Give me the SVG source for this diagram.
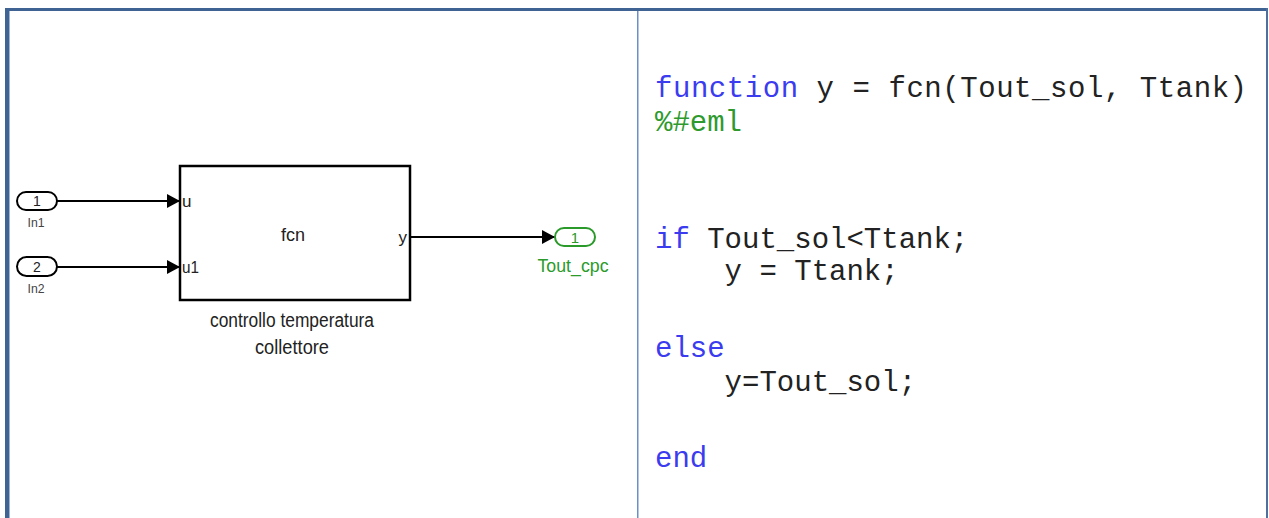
<svg xmlns="http://www.w3.org/2000/svg" width="1269" height="518" viewBox="0 0 1269 518">
  <defs>
    <marker id="arrow" viewBox="0 0 13 14" refX="13" refY="7" markerWidth="13" markerHeight="14" markerUnits="userSpaceOnUse" orient="auto">
      <path d="M0,0 L13,7 L0,14 Z" fill="#000"/>
    </marker>
  </defs>
  <style>
    .sans { font-family: "Liberation Sans", Arial, sans-serif; }
    .port { fill: #fff; stroke: #000; stroke-width: 2; }
    .outport { fill: #fff; stroke: #2a9a2a; stroke-width: 2; }
    .wire { fill: none; stroke: #000; stroke-width: 2; }
    .lbl { font-size: 14px; fill: #222; }
    .small { font-size: 13px; fill: #444; }
    .green { fill: #2a9a2a; }
    .code { font-family: "Liberation Mono", "Courier New", monospace; font-size: 29px; fill: #222; }
    .kw { fill: #3b3bf0; }
    .cm { fill: #2e9a2e; }
  </style>

  <!-- background and frame -->
  <rect x="0" y="0" width="1269" height="518" fill="#fff"/>
  <rect x="5" y="8" width="1263" height="3" fill="#3f6393"/>
  <rect x="5" y="8" width="4" height="510" fill="#3f6393"/>
  <rect x="9" y="11" width="1" height="507" fill="#9fb4d2"/>
  <rect x="1266" y="8" width="2" height="510" fill="#4f6f9f"/>
  <rect x="637" y="11" width="1.5" height="507" fill="#6d8fc8"/>

  <!-- connectors -->
  <g id="connectors">
    <line class="wire" x1="57" y1="201" x2="180" y2="201" marker-end="url(#arrow)"/>
    <line class="wire" x1="57" y1="267" x2="180" y2="267" marker-end="url(#arrow)"/>
    <line class="wire" x1="411" y1="237" x2="555" y2="237" marker-end="url(#arrow)"/>
  </g>

  <!-- inport 1 -->
  <g id="in1">
    <rect class="port" x="17" y="192" width="40" height="18" rx="9"/>
    <text class="sans lbl" x="37" y="206" text-anchor="middle">1</text>
    <text class="sans small" x="36" y="227" text-anchor="middle" textLength="17" lengthAdjust="spacingAndGlyphs">In1</text>
  </g>

  <!-- inport 2 -->
  <g id="in2">
    <rect class="port" x="17" y="257" width="40" height="19" rx="9.5"/>
    <text class="sans lbl" x="37" y="272" text-anchor="middle">2</text>
    <text class="sans small" x="36" y="293" text-anchor="middle" textLength="17" lengthAdjust="spacingAndGlyphs">In2</text>
  </g>

  <!-- MATLAB function block -->
  <g id="fcn-block">
    <rect x="180" y="166" width="230" height="134" fill="#fff" stroke="#000" stroke-width="2.5"/>
    <text class="sans" x="182" y="207" font-size="17" fill="#222">u</text>
    <text class="sans" x="182" y="273" font-size="17" fill="#222" textLength="17" lengthAdjust="spacingAndGlyphs">u1</text>
    <text class="sans" x="293" y="241" font-size="18" fill="#222" text-anchor="middle">fcn</text>
    <text class="sans" x="407" y="243" font-size="17" fill="#222" text-anchor="end">y</text>
    <text class="sans" x="292" y="327" font-size="20" fill="#222" text-anchor="middle" textLength="164" lengthAdjust="spacingAndGlyphs">controllo temperatura</text>
    <text class="sans" x="292" y="354" font-size="20" fill="#222" text-anchor="middle" textLength="74" lengthAdjust="spacingAndGlyphs">collettore</text>
  </g>

  <!-- outport -->
  <g id="out1">
    <rect class="outport" x="555" y="228" width="40" height="18" rx="9"/>
    <text class="sans green" x="575" y="243" font-size="15" text-anchor="middle">1</text>
    <text class="sans green" x="573" y="272" font-size="18" text-anchor="middle" textLength="71" lengthAdjust="spacingAndGlyphs">Tout_cpc</text>
  </g>

  <!-- function source listing -->
  <g id="code">
    <text class="code" x="655" y="97" xml:space="preserve" textLength="592" lengthAdjust="spacing"><tspan class="kw">function</tspan> y = fcn(Tout_sol, Ttank)</text>
    <text class="code cm" x="655" y="131">%#eml</text>
    <text class="code" x="655" y="248" xml:space="preserve"><tspan class="kw">if</tspan> Tout_sol&lt;Ttank;</text>
    <text class="code" x="655" y="280" xml:space="preserve">    y = Ttank;</text>
    <text class="code kw" x="655" y="357">else</text>
    <text class="code" x="655" y="391" xml:space="preserve">    y=Tout_sol;</text>
    <text class="code kw" x="655" y="467">end</text>
  </g>
</svg>
